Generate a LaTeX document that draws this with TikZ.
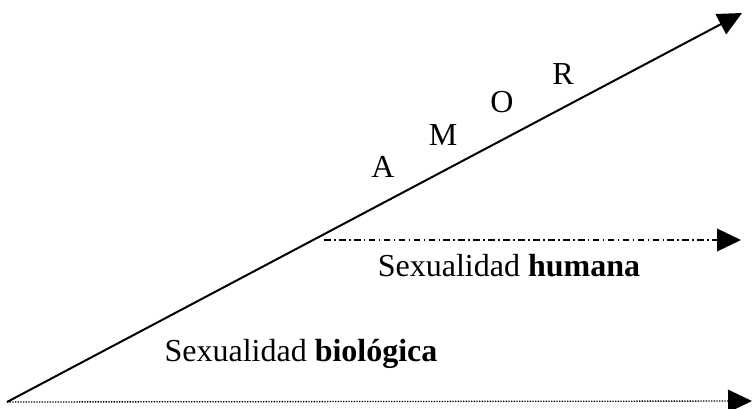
\documentclass[tikz,border=0pt]{standalone}
\usepackage{fontspec}
\setmainfont{Liberation Serif}
\usetikzlibrary{arrows.meta}

\tikzset{
  bigtip/.style={-{Triangle[length=18pt,width=17pt]}},
  lbl/.style={anchor=base,inner sep=0pt,font=\fontsize{24}{28}\selectfont}
}

\begin{document}
\begin{tikzpicture}[x=0.75pt,y=0.75pt,yscale=-1,xscale=1]
\useasboundingbox (0,0) rectangle (752,408);

%Coordinates
\coordinate (origin) at (7,402);
\coordinate (amortip) at (742,13);
\coordinate (humstart) at (324,240);
\coordinate (humtip) at (741,240);
\coordinate (biotip) at (752,401);

%Straight Lines: amor
\draw [line width=1.5pt,bigtip] (origin) -- (amortip) ;
%Straight Lines: humana
\draw [line width=1.1pt,dash pattern=on 5pt off 2.5pt on 1.2pt off 2.5pt,bigtip] (humstart) -- (humtip) ;
%Straight Lines: biologica
\draw [line width=1pt,dash pattern=on 1pt off 1pt,bigtip] (origin) -- (biotip) ;

%Labels
\node [lbl] (letA) at (383,177) {A};
\node [lbl] (letM) at (443,145) {M};
\node [lbl] (letO) at (502,112) {O};
\node [lbl] (letR) at (563,84) {R};
\node [lbl] (humana) at (509,276) {Sexualidad \textbf{humana}};
\node [lbl] (biologica) at (301,361) {Sexualidad \textbf{biológica}};

\end{tikzpicture}
\end{document}
